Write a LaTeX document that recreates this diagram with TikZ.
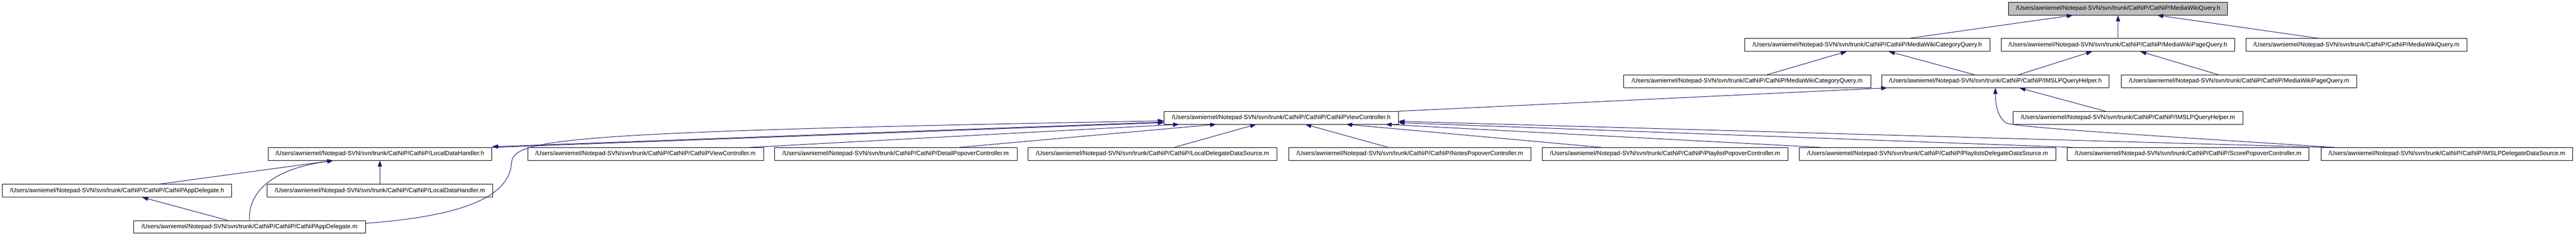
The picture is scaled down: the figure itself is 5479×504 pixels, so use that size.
\documentclass[tikz,border=0pt]{standalone}
\usepackage{fontspec}
\setmainfont{Liberation Sans}
\usepackage{tikz}
\usetikzlibrary{arrows.meta}
\definecolor{edgeblue}{RGB}{25,25,112}
\definecolor{rootgray}{RGB}{191,191,191}
\newcommand{\catpath}{/Users/awniemel/Notepad-SVN/svn/trunk/CatNiP/CatNiP/}

\begin{document}
\begin{tikzpicture}[x=1pt, y=-1pt,
  file/.style={draw=black, line width=0.9pt, fill=white, minimum height=27pt, inner sep=0pt, font=\fontsize{13}{15}\selectfont},
  edge/.style={draw=edgeblue, line width=1.1pt, -{Triangle[length=13pt,width=9pt]}}]
\useasboundingbox (0,0) rectangle (5479,504);
% row 1
\node[file, fill=rootgray, minimum width=466pt] (root) at (4505,18.5) {\catpath MediaWikiQuery.h};
% row 2
\node[file, minimum width=521pt] (cqh) at (3971.5,95.5) {\catpath MediaWikiCategoryQuery.h};
\node[file, minimum width=497pt] (pqh) at (4504.5,95.5) {\catpath MediaWikiPageQuery.h};
\node[file, minimum width=470pt] (qm) at (5012,95.5) {\catpath MediaWikiQuery.m};
% row 3
\node[file, minimum width=526pt] (cqm) at (3716,173) {\catpath MediaWikiCategoryQuery.m};
\node[file, minimum width=484pt] (iqh) at (4244,173) {\catpath IMSLPQueryHelper.h};
\node[file, minimum width=501pt] (pqm) at (4762.5,173) {\catpath MediaWikiPageQuery.m};
% row 4
\node[file, minimum width=498pt] (vch) at (2725,250.5) {\catpath CatNiPViewController.h};
\node[file, minimum width=488pt] (iqm) at (4526,250.5) {\catpath IMSLPQueryHelper.m};
% row 5
\node[file, minimum width=476pt] (ldh) at (808,327.5) {\catpath LocalDataHandler.h};
\node[file, minimum width=502pt] (vcm) at (1373,327.5) {\catpath CatNiPViewController.m};
\node[file, minimum width=516pt] (dpm) at (1905,327.5) {\catpath DetailPopoverController.m};
\node[file, minimum width=529pt] (lddsm) at (2451.5,327.5) {\catpath LocalDelegateDataSource.m};
\node[file, minimum width=515pt] (npm) at (2998.5,327.5) {\catpath NotesPopoverController.m};
\node[file, minimum width=523pt] (ppm) at (3541.5,327.5) {\catpath PlaylistPopoverController.m};
\node[file, minimum width=546pt] (pddsm) at (4100,327.5) {\catpath PlaylistsDelegateDataSource.m};
\node[file, minimum width=514pt] (spm) at (4654,327.5) {\catpath ScorePopoverController.m};
\node[file, minimum width=535pt] (iddsm) at (5204.5,327.5) {\catpath IMSLPDelegateDataSource.m};
% row 6
\node[file, minimum width=488pt] (adh) at (249,405.5) {\catpath CatNiPAppDelegate.h};
\node[file, minimum width=480pt] (ldm) at (808,405.5) {\catpath LocalDataHandler.m};
% row 7
\node[file, minimum width=493pt] (adm) at (530.5,482.5) {\catpath CatNiPAppDelegate.m};

% includes of the root
\draw[edge] ([xshift=88.5pt]cqh.north) -- ([xshift=-96pt]root.south);
\draw[edge] (pqh.north) -- (root.south);
\draw[edge] ([xshift=-80pt]qm.north) -- ([xshift=83pt]root.south);
% query headers
\draw[edge] ([xshift=42pt]cqm.north) -- ([xshift=-43.5pt]cqh.south);
\draw[edge] ([xshift=-44pt]iqh.north) -- ([xshift=45.5pt]cqh.south);
\draw[edge] ([xshift=49pt]iqh.north) -- ([xshift=-54.5pt]pqh.south);
\draw[edge] ([xshift=-43.5pt]pqm.north) -- ([xshift=47.5pt]pqh.south);
% helper
\draw[edge] (vch.north east) -- ([xshift=-230pt]iqh.south);
\draw[edge] ([xshift=-48pt]iqm.north) -- ([xshift=51pt]iqh.south);
\draw[edge] ([xshift=-237.5pt]iddsm.north) .. controls (4600,290) and (4300,272) .. (4268,262)
  .. controls (4248,250) and (4244,220) .. (iqh.south);
% view controller
\foreach \src/\a/\b in {vcm/220/-217, dpm/134/-138, lddsm/45.5/-53, npm/-45.5/51, ppm/-134.5/138, pddsm/-225/222}
  \draw[edge] ([xshift=\a pt]\src.north) -- ([xshift=\b pt]vch.south);
\draw[edge] ([xshift=-242pt]spm.north) -- ([yshift=-10.5pt]vch.east);
\draw[edge] ([xshift=-253.5pt]iddsm.north) -- ([yshift=-7.5pt]vch.east);
\draw[edge] (ldh.north east) -- ([yshift=-10.5pt]vch.west);
\draw[edge] ([yshift=-9pt]vch.west) -- ([yshift=1.5pt]ldh.north east);
\draw[edge] ([yshift=7.5pt]adm.east) .. controls (980,460) and (1085,420) .. (1088,345)
  .. controls (1095,295) and (1200,280) .. ([yshift=-6.5pt]vch.west);
% local data handler and app delegate
\draw[edge] ([xshift=90pt]adh.north) -- ([xshift=-99pt]ldh.south);
\draw[edge] (adm.north) .. controls (528,410) and (575,360) .. ([xshift=-99pt]ldh.south);
\draw[edge] (ldm.north) -- (ldh.south);
\draw[edge] ([xshift=-46.5pt]adm.north) -- ([xshift=53pt]adh.south);
\end{tikzpicture}
\end{document}
